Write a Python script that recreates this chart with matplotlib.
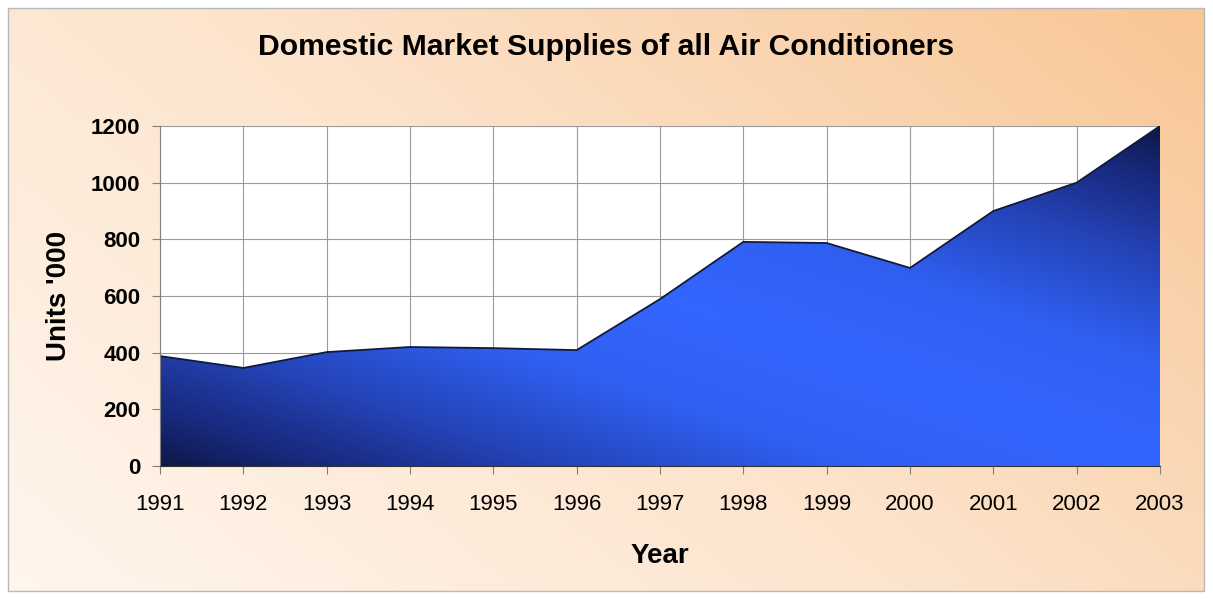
import numpy as np
import matplotlib
matplotlib.use('Agg')
import matplotlib.pyplot as plt
from matplotlib.colors import LinearSegmentedColormap
from matplotlib.patches import Rectangle

plt.rcParams['font.family'] = ['Liberation Sans', 'DejaVu Sans']

# Supplies per year (thousand units)
years = [1991, 1992, 1993, 1994, 1995, 1996, 1997, 1998, 1999, 2000, 2001, 2002, 2003]
units = [388, 346, 402, 420, 416, 409, 589, 791, 787, 699, 900, 1000, 1200]
y_ticks = [0, 200, 400, 600, 800, 1000, 1200]

fig = plt.figure(figsize=(12.13, 5.99), dpi=100)

# peach background, lighter towards bottom-left
bg = fig.add_axes([0, 0, 1, 1], zorder=-2)
bg.set_axis_off()
gx, gy = np.meshgrid(np.linspace(0, 1, 300), np.linspace(0, 1, 150))
t = (gx * 0.75 + gy * 0.45) / 1.2
bg_cmap = LinearSegmentedColormap.from_list('peach', ['#fff6ee', '#fce3cb', '#f8c594'])
bg.imshow(t, cmap=bg_cmap, origin='lower', extent=[0, 1, 0, 1], aspect='auto')
bg.set_xlim(0, 1)
bg.set_ylim(0, 1)
# white margin and thin grey frame round the chart
fw, fh = 1213, 599
for rect in [Rectangle((0, 0), 1, 8 / fh), Rectangle((0, 1 - 8 / fh), 1, 8 / fh),
             Rectangle((0, 0), 8 / fw, 1), Rectangle((1 - 9 / fw, 0), 9 / fw, 1)]:
    rect.set_facecolor('white')
    rect.set_edgecolor('none')
    bg.add_patch(rect)
bg.add_patch(Rectangle((8 / fw, 8 / fh), 1 - 17 / fw, 1 - 16 / fh, fill=False,
                       edgecolor='#b8b8b8', linewidth=1))

ax = fig.add_axes([160 / fw, 1 - 466 / fh, 1000 / fw, 340 / fh])
ax.set_facecolor('white')

poly = ax.fill_between(years, units, 0, facecolor='none', edgecolor='none', zorder=2)
ax.plot(years, units, color='#111a3a', linewidth=1.3, zorder=4)

# two-sided diagonal blue gradient inside the area
ux, vy = np.meshgrid(np.linspace(0, 1, 400), np.linspace(0, 1, 200))
d = np.abs(ux + vy - 1.0)
area_cmap = LinearSegmentedColormap.from_list(
    'blues', [(0, '#3366ff'), (0.3, '#3060f2'), (0.6, '#2444b8'), (0.85, '#18287a'), (1, '#0f1848')])
img = ax.imshow(d, cmap=area_cmap, origin='lower', vmin=0, vmax=1,
                extent=[years[0], years[-1], 0, 1200], aspect='auto', zorder=3)
img.set_clip_path(poly.get_paths()[0], transform=ax.transData)

ax.set_xlim(years[0], years[-1])
ax.set_ylim(0, 1200)
ax.set_xticks(years)
ax.set_xticklabels([str(y) for y in years], fontsize=16)
ax.set_yticks(y_ticks)
ax.set_yticklabels([str(v) for v in y_ticks], fontsize=16, fontweight='bold')
ax.grid(True, color='#9a9a9a', linewidth=0.8, zorder=1)
ax.set_axisbelow(True)
ax.tick_params(axis='both', direction='out', length=6, color='#808080', pad=8)
ax.tick_params(axis='x', pad=14)
for side in ['top', 'right']:
    ax.spines[side].set_visible(False)
ax.spines['left'].set_color('#808080')
ax.spines['bottom'].set_color('#333333')
ax.spines['left'].set_zorder(5)
ax.spines['bottom'].set_zorder(5)

ax.set_xlabel('Year', fontsize=20, fontweight='bold', labelpad=20)
ax.set_ylabel("Units '000", fontsize=20, fontweight='bold', labelpad=14)
fig.text(0.5, 1 - 47 / fh, 'Domestic Market Supplies of all Air Conditioners',
         ha='center', va='center', fontsize=21.7, fontweight='bold')

fig.savefig('out.png', dpi=100)
